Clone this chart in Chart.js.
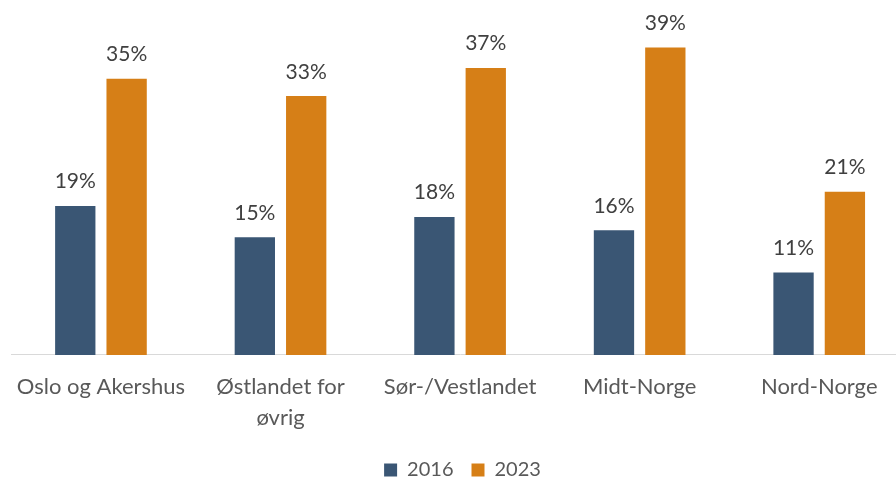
<!DOCTYPE html>
<html>
<head>
<meta charset="utf-8">
<script src="https://cdn.jsdelivr.net/npm/chart.js@4.4.1/dist/chart.umd.min.js"></script>
<style>
  html, body { margin: 0; padding: 0; background: #ffffff; overflow: hidden; }
  #wrap { width: 896px; height: 479px; overflow: hidden; position: relative; }
  canvas { display: block; }
</style>
</head>
<body>
<div id="wrap"><canvas id="c" width="910" height="490"></canvas></div>
<script>
const categories = ["Oslo og Akershus", ["Østlandet for", "øvrig"], "Sør-/Vestlandet", "Midt-Norge", "Nord-Norge"];
const seriesNames = ["2016", "2023"];
const values2016 = [19.0, 15.0, 17.6, 15.9, 10.5];
const values2023 = [35.2, 33.0, 36.6, 39.2, 20.8];
const yMax = 45;

const FONT = "Lato, 'Open Sans', sans-serif";

const valueLabels = {
  id: 'valueLabels',
  afterDatasetsDraw(chart) {
    const ctx = chart.ctx;
    ctx.save();
    ctx.font = "21px " + FONT;
    ctx.fillStyle = "#404040";
    ctx.textAlign = "center";
    ctx.textBaseline = "alphabetic";
    chart.data.datasets.forEach((ds, i) => {
      const meta = chart.getDatasetMeta(i);
      meta.data.forEach((bar, j) => {
        ctx.fillText(Math.round(ds.data[j]) + "%", bar.x, bar.y - 17.5);
      });
    });
    ctx.restore();
  }
};

const legendShift = {
  id: 'legendShift',
  beforeDraw(chart) {
    if (chart.legend && !chart.legend._shifted) {
      chart.legend.left += 4;
      chart.legend.right += 4;
      chart.legend._shifted = true;
    }
  }
};

new Chart(document.getElementById('c'), {
  type: 'bar',
  data: {
    labels: categories,
    datasets: [
      { label: seriesNames[0], data: values2016, backgroundColor: '#3A5674' },
      { label: seriesNames[1], data: values2023, backgroundColor: '#D67F17' }
    ]
  },
  options: {
    responsive: false,
    animation: false,
    devicePixelRatio: 1,
    layout: { padding: { left: 8, right: 1, top: 2, bottom: 0 } },
    datasets: { bar: { categoryPercentage: 0.572, barPercentage: 0.785 } },
    scales: {
      x: {
        grid: { display: false, drawTicks: false },
        border: { display: true, color: '#D9D9D9', width: 1 },
        ticks: { color: '#595959', font: { family: FONT, size: 22, lineHeight: 1.41 }, padding: 16, maxRotation: 0, autoSkip: false },
        afterFit(scale) { scale.height -= 7; }
      },
      y: {
        display: false,
        min: 0,
        max: yMax
      }
    },
    plugins: {
      legend: {
        position: 'bottom',
        labels: {
          color: '#595959',
          font: { family: FONT, size: 20 },
          boxWidth: 13,
          boxHeight: 13,
          padding: 18
        }
      },
      tooltip: { enabled: false }
    }
  },
  plugins: [valueLabels, legendShift]
});
</script>
</body>
</html>
